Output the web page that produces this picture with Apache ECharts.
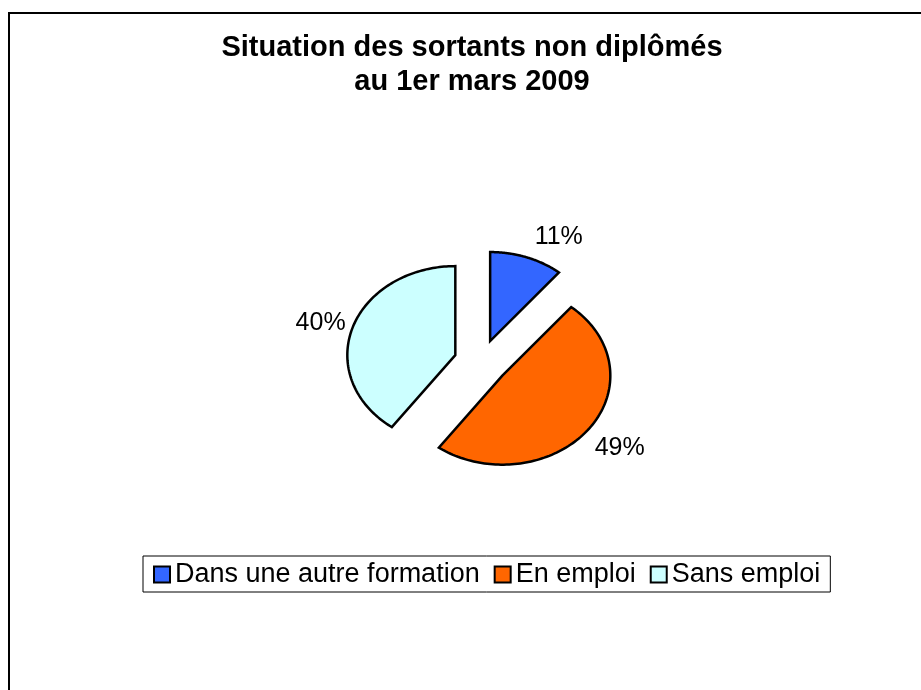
<!DOCTYPE html>
<html><head><meta charset="utf-8">
<script src="https://cdn.jsdelivr.net/npm/echarts@6/dist/echarts.min.js"></script>
<style>html,body{margin:0;padding:0;background:#fff}#c{width:921px;height:690px}</style>
</head><body><div id="c"></div>
<script>
const titleLines = ['Situation des sortants non diplômés', 'au 1er mars 2009'];
const categories = ['Dans une autre formation', 'En emploi', 'Sans emploi'];
const values = [11, 49, 40];
const colors = ['#3366FF', '#FF6600', '#CCFFFF'];

const FONT = '"Liberation Sans", Arial, sans-serif';
const total = values.reduce((a, b) => a + b, 0);
const starts = [];
let acc = 0;
values.forEach(v => { starts.push(acc / total * 2 * Math.PI); acc += v; });
const EXPLODE = 0.25;

function renderSlice(idx) {
  return function (params, api) {
    const a0 = starts[idx];
    const a1 = a0 + values[idx] / total * 2 * Math.PI;
    const mid = (a0 + a1) / 2;
    const ox = EXPLODE * Math.sin(mid), oy = EXPLODE * Math.cos(mid);
    const pts = [api.coord([ox, oy])];
    const n = 120;
    for (let k = 0; k <= n; k++) {
      const a = a0 + (a1 - a0) * k / n;
      pts.push(api.coord([ox + Math.sin(a), oy + Math.cos(a)]));
    }
    const lp = api.coord([(1 + EXPLODE) * Math.sin(mid), (1 + EXPLODE) * Math.cos(mid)]);
    const lx = lp[0] + (Math.sin(mid) >= 0 ? 32 : -32);
    const ly = lp[1] - Math.cos(mid) * 25 + 3;
    return {
      type: 'group',
      children: [
        { type: 'polygon', shape: { points: pts },
          style: { fill: colors[idx], stroke: '#000', lineWidth: 2.5, lineJoin: 'miter' } },
        { type: 'text', x: lx, y: ly,
          style: { text: Math.round(values[idx] / total * 100) + '%', fill: '#000',
                   fontSize: 25, fontFamily: FONT, align: 'center', verticalAlign: 'middle' } }
      ]
    };
  };
}

const chart = echarts.init(document.getElementById('c'), null, { renderer: 'canvas' });
chart.setOption({
  animation: false,
  backgroundColor: '#fff',
  title: {
    text: titleLines.join('\n'),
    left: 472, top: 31, padding: 0, textAlign: 'center',
    textStyle: { fontSize: 29, fontWeight: 'bold', fontFamily: FONT, color: '#000', lineHeight: 34 }
  },
  graphic: [{
    type: 'rect', silent: true, z: -10,
    shape: { x: 9, y: 13, width: 1000, height: 1000 },
    style: { fill: 'none', stroke: '#000', lineWidth: 2 }
  }],
  legend: {
    data: categories,
    left: 143, top: 556,
    orient: 'horizontal',
    icon: 'rect',
    itemWidth: 16, itemHeight: 16, itemGap: 14,
    padding: [5, 10, 4, 10],
    borderColor: '#000', borderWidth: 1,
    selectedMode: false,
    itemStyle: { borderColor: '#000', borderWidth: 2 },
    textStyle: { fontSize: 27, color: '#000', fontFamily: FONT }
  },
  grid: { left: 265, top: 184, width: 432, height: 356 },
  xAxis: { type: 'value', min: -2, max: 2, show: false },
  yAxis: { type: 'value', min: -2, max: 2, show: false },
  series: categories.map((name, i) => ({
    type: 'custom',
    name: name,
    clip: false,
    itemStyle: { color: colors[i], borderColor: '#000', borderWidth: 2 },
    renderItem: renderSlice(i),
    data: [[0, values[i]]]
  }))
});
</script>
</body></html>
